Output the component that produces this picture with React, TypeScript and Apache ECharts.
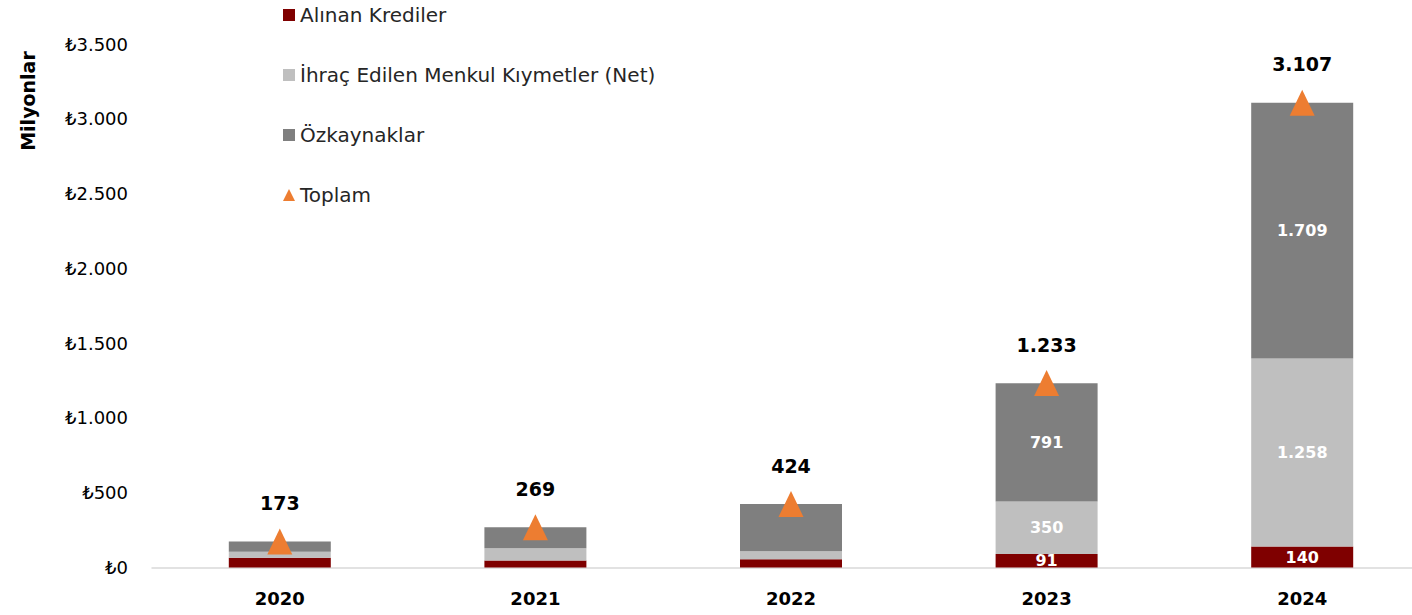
import React, { useEffect, useRef } from "react";
import * as echarts from "echarts";

const years = ["2020", "2021", "2022", "2023", "2024"];
const alinanKrediler = [66, 46, 55, 91, 140];
const ihracMenkul = [39, 82, 53, 350, 1258];
const ozkaynaklar = [68, 141, 316, 791, 1709];
const toplam = [173, 269, 424, 1233, 3107];
const labeledYears = ["2023", "2024"];

const FONT = "'DejaVu Sans', 'Noto Sans', sans-serif";

const fmt = (v: number) => {
  const s = Math.round(v).toString();
  return s.replace(/\B(?=(\d{3})+(?!\d))/g, ".");
};

function segData(values: number[]) {
  return values.map((v, i) => ({
    value: v,
    label: { show: labeledYears.includes(years[i]) },
  }));
}

export default function App() {
  const ref = useRef<HTMLDivElement>(null);
  useEffect(() => {
    if (!ref.current) return;
    const chart = echarts.init(ref.current, null, { renderer: "svg" });
    const innerLabel = {
      color: "#ffffff",
      fontWeight: "bold" as const,
      fontSize: 16,
      fontFamily: FONT,
      position: "inside" as const,
      formatter: (p: any) => fmt(p.value),
    };
    chart.setOption({
      animation: false,
      backgroundColor: "#ffffff",
      textStyle: { fontFamily: FONT },
      grid: { left: 152, top: 44, right: 10, height: 523.5 },
      legend: {
        orient: "vertical",
        left: 278,
        top: 0,
        itemWidth: 12,
        itemHeight: 12,
        itemGap: 40,
        textStyle: { fontSize: 20, color: "#262626", fontFamily: FONT, lineHeight: 20 },
        data: [
          { name: "Alınan Krediler", icon: "rect" },
          { name: "İhraç Edilen Menkul Kıymetler (Net)", icon: "rect" },
          { name: "Özkaynaklar", icon: "rect" },
          { name: "Toplam", icon: "triangle" },
        ],
      },
      graphic: [
        {
          type: "text",
          x: 28,
          y: 101,
          rotation: Math.PI / 2,
          style: {
            text: "Milyonlar",
            fontSize: 19,
            fontWeight: "bold",
            fontFamily: FONT,
            fill: "#000000",
            align: "center",
            verticalAlign: "middle",
          },
        },
      ],
      xAxis: {
        type: "category",
        data: years,
        axisLine: { lineStyle: { color: "#d9d9d9", width: 1.5 } },
        axisTick: { show: false },
        axisLabel: {
          fontSize: 18,
          fontWeight: "bold",
          color: "#000000",
          margin: 22,
          fontFamily: FONT,
        },
      },
      yAxis: {
        type: "value",
        min: 0,
        max: 3500,
        interval: 500,
        splitLine: { show: false },
        axisLine: { show: false },
        axisTick: { show: false },
        axisLabel: {
          fontSize: 18,
          color: "#000000",
          margin: 24,
          fontFamily: FONT,
          formatter: (v: number) => "₺" + fmt(v),
        },
      },
      series: [
        {
          name: "Alınan Krediler",
          type: "bar",
          stack: "total",
          barWidth: 102,
          itemStyle: { color: "#7f0000" },
          label: innerLabel,
          data: segData(alinanKrediler),
        },
        {
          name: "İhraç Edilen Menkul Kıymetler (Net)",
          type: "bar",
          stack: "total",
          barWidth: 102,
          itemStyle: { color: "#bfbfbf" },
          label: innerLabel,
          data: segData(ihracMenkul),
        },
        {
          name: "Özkaynaklar",
          type: "bar",
          stack: "total",
          barWidth: 102,
          itemStyle: { color: "#7f7f7f" },
          label: innerLabel,
          data: segData(ozkaynaklar),
        },
        {
          name: "Toplam",
          type: "scatter",
          symbol: "triangle",
          symbolSize: [25, 26],
          itemStyle: { color: "#ed7d31", opacity: 1 },
          label: {
            show: true,
            position: "top",
            distance: 16,
            color: "#000000",
            fontWeight: "bold",
            fontSize: 19,
            fontFamily: FONT,
            formatter: (p: any) => fmt(p.value),
          },
          data: toplam,
          z: 5,
        },
      ],
    });
    return () => chart.dispose();
  }, []);
  return (
    <div
      ref={ref}
      style={{ position: "fixed", left: 0, top: 0, width: 1440, height: 615 }}
    />
  );
}
